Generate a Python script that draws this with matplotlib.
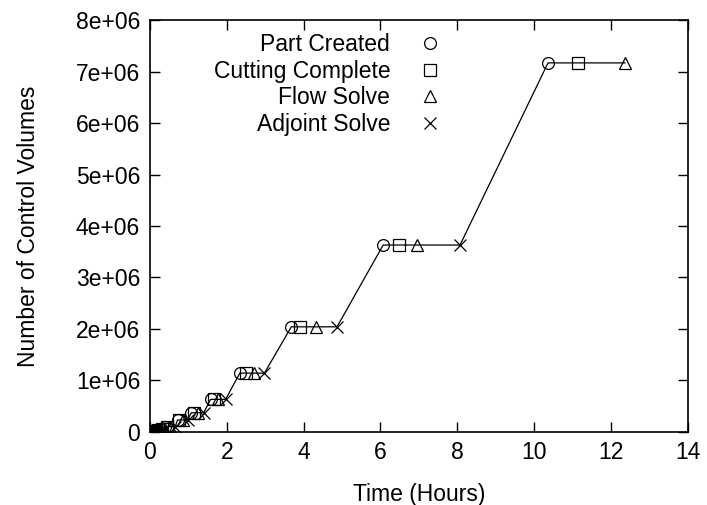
import matplotlib.pyplot as plt
import numpy as np

plt.rcParams['font.family'] = ['Liberation Sans', 'DejaVu Sans']

# control volumes in each refinement stage, and the time each milestone was hit
stage_cv = [4e3, 9e3, 18e3, 32e3, 55e3, 100e3, 230e3, 370e3, 630e3,
            1.14e6, 2.04e6, 3.63e6, 7.17e6]
t_created = [0.00, 0.05, 0.11, 0.18, 0.29, 0.40, 0.72, 1.08, 1.58,
             2.34, 3.68, 6.07, 10.36]
t_cut = [0.01, 0.06, 0.12, 0.20, 0.31, 0.44, 0.77, 1.14, 1.66,
         2.50, 3.90, 6.48, 11.14]
t_flow = [0.02, 0.08, 0.14, 0.23, 0.35, 0.52, 0.85, 1.24, 1.78,
          2.72, 4.32, 6.95, 12.36]
t_adjoint = [0.04, 0.10, 0.17, 0.27, 0.40, 0.66, 0.98, 1.40, 1.97,
             2.98, 4.87, 8.07, np.nan]

# connecting line through every milestone in time order
line_t, line_n = [], []
for n, a, b, c, d in zip(stage_cv, t_created, t_cut, t_flow, t_adjoint):
    for t in (a, b, c, d):
        if not np.isnan(t):
            line_t.append(t)
            line_n.append(n)

fs = 16.5
fig = plt.figure(figsize=(7.07, 5.05), dpi=100)
ax = fig.add_axes([0.212, 0.145, 0.761, 0.815])

ax.plot(line_t, line_n, color='black', lw=0.9, zorder=1)
mk = dict(linestyle='none', mfc='none', mec='black', mew=0.9, zorder=2)
ax.plot(t_created, stage_cv, marker='o', ms=8.5, label='Part Created', **mk)
ax.plot(t_cut, stage_cv, marker='s', ms=8, label='Cutting Complete', **mk)
ax.plot(t_flow, stage_cv, marker='^', ms=8, label='Flow Solve', **mk)
ax.plot(t_adjoint, stage_cv, marker='x', ms=8.5, label='Adjoint Solve', **mk)

ax.set_xlim(0, 14)
ax.set_ylim(0, 8e6)
ax.set_xticks(np.arange(0, 15, 2))
ax.set_yticks(np.arange(0, 8.1e6, 1e6))
ax.set_yticklabels(['0'] + ['%de+06' % i for i in range(1, 9)])
ax.tick_params(direction='in', length=7, width=1, labelsize=fs, pad=7,
               top=True, right=True)
for s in ax.spines.values():
    s.set_linewidth(1.2)

ax.set_xlabel('Time (Hours)', fontsize=fs, labelpad=13)
ax.set_ylabel('Number of Control Volumes', fontsize=fs)
ax.yaxis.set_label_coords(-0.205, 0.5)

ax.legend(loc='upper right', bbox_to_anchor=(0.542, 0.968), frameon=False,
          markerfirst=False, fontsize=fs, handlelength=1.0,
          handletextpad=1.24, labelspacing=0.15, borderpad=0,
          borderaxespad=0)

fig.savefig('out.png', dpi=100)
